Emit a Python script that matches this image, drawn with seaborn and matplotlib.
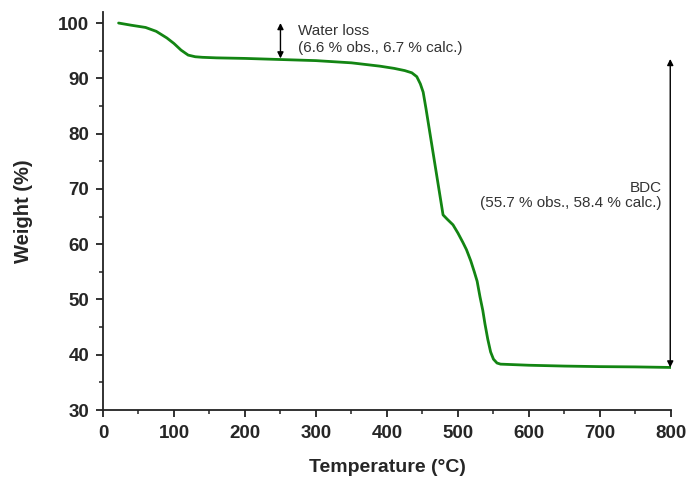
import matplotlib
matplotlib.use("Agg")
import matplotlib.pyplot as plt
import seaborn as sns
import pandas as pd
from matplotlib.ticker import MultipleLocator

# TGA curve
temperature = [22, 40, 60, 75, 90, 100, 110, 120, 130, 140, 160, 200, 250, 300, 350,
               390, 410, 425, 435, 442, 447, 451, 455, 460, 465, 470, 475, 479, 485,
               493, 500, 507, 512, 518, 523, 527, 531, 535, 538, 542, 546, 550, 555,
               560, 580, 600, 650, 700, 750, 800]
weight = [100.0, 99.6, 99.2, 98.5, 97.3, 96.3, 95.1, 94.2, 93.9, 93.8, 93.7, 93.6, 93.4,
          93.2, 92.8, 92.2, 91.8, 91.4, 91.0, 90.3, 89.0, 87.5, 84.5, 80.5, 76.5, 72.5,
          68.5, 65.3, 64.5, 63.5, 62.0, 60.3, 59.0, 57.0, 55.0, 53.3, 50.5, 48.0, 45.6,
          42.8, 40.5, 39.2, 38.5, 38.3, 38.2, 38.1, 37.95, 37.85, 37.8, 37.7]

water_arrow = (250, 100.0, 93.6)
bdc_arrow = (799, 93.5, 37.7)

sns.set_style("ticks")
plt.rcParams['font.family'] = ['Liberation Sans', 'DejaVu Sans']

df = pd.DataFrame({"Temperature": temperature, "Weight": weight})

fig = plt.figure(figsize=(6.91, 4.79), dpi=100)
ax = fig.add_axes([0.149, 0.144, 0.822, 0.831])
sns.lineplot(data=df, x="Temperature", y="Weight", color="#138513", linewidth=2.0, ax=ax)

ax.set_xlim(0, 800)
ax.set_ylim(30, 102)
ax.xaxis.set_major_locator(MultipleLocator(100))
ax.xaxis.set_minor_locator(MultipleLocator(50))
ax.yaxis.set_major_locator(MultipleLocator(10))
ax.yaxis.set_minor_locator(MultipleLocator(5))
ax.set_yticks(range(30, 101, 10))
sns.despine(ax=ax)
for sp in ["left", "bottom"]:
    ax.spines[sp].set_linewidth(1.3)
    ax.spines[sp].set_color("#222222")
ax.tick_params(which="major", length=5, width=1.3, labelsize=13.5, color="#222222")
ax.tick_params(axis="x", which="major", pad=6)
ax.tick_params(axis="y", which="major", pad=5)
ax.tick_params(which="minor", length=3, width=1.1, color="#222222")
for lab in ax.get_xticklabels() + ax.get_yticklabels():
    lab.set_fontweight("bold")
ax.set_xlabel("Temperature (°C)", fontsize=14, fontweight="bold", labelpad=12)
ax.set_ylabel("Weight (%)", fontsize=14.5, fontweight="bold", labelpad=18)

# annotations
x, y0, y1 = water_arrow
ax.annotate("", xy=(x, y0), xytext=(x, y1),
            arrowprops=dict(arrowstyle="<|-|>", color="black", lw=1.0,
                            mutation_scale=9, shrinkA=0, shrinkB=0))
ax.text(275, 99.8, "Water loss\n(6.6 % obs., 6.7 % calc.)", fontsize=11,
        color="#333333", va="top", ha="left", linespacing=1.3)

x, y0, y1 = bdc_arrow
ax.annotate("", xy=(x, y0), xytext=(x, y1),
            arrowprops=dict(arrowstyle="<|-|>", color="black", lw=1.0,
                            mutation_scale=9, shrinkA=0, shrinkB=0))
ax.text(787, 71.5, "BDC\n(55.7 % obs., 58.4 % calc.)", fontsize=11,
        color="#333333", va="top", ha="right", multialignment="right", linespacing=1.15)

fig.savefig("out.png", dpi=100)
